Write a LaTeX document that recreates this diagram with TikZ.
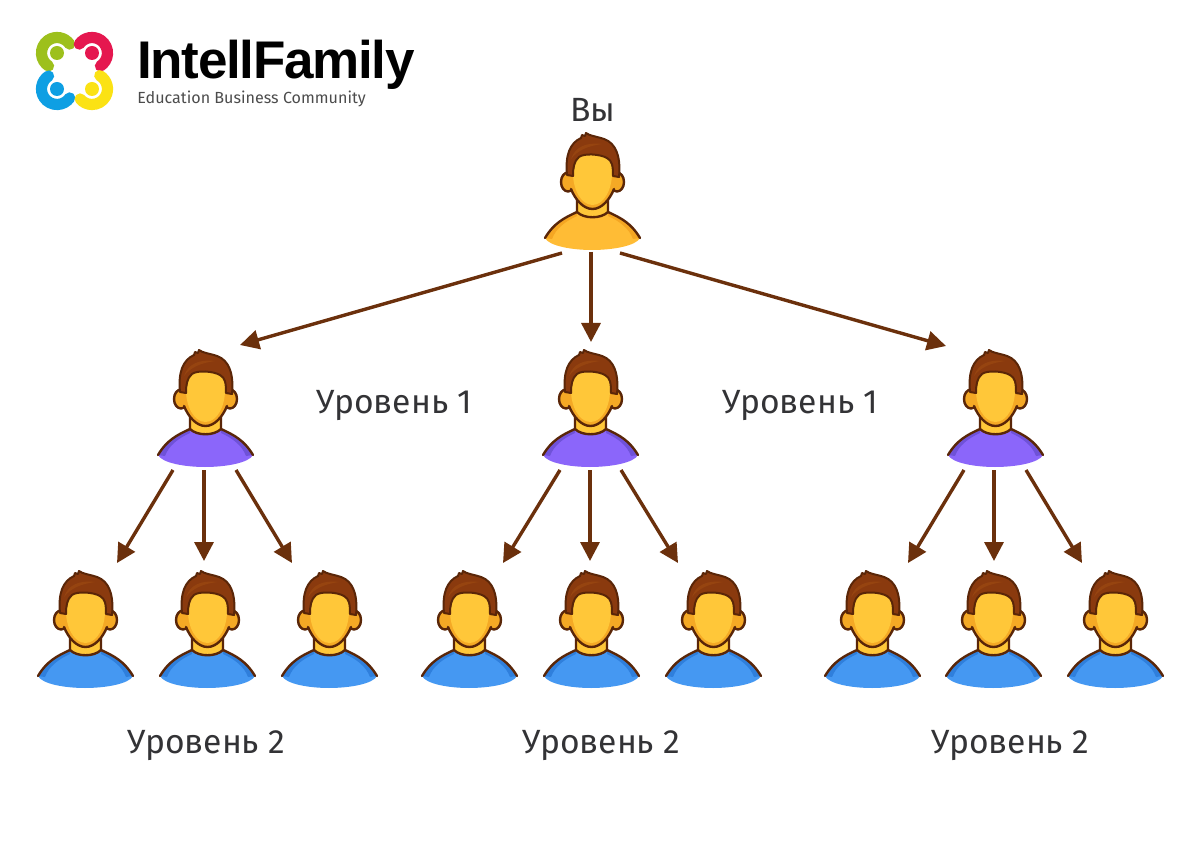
\documentclass[tikz,border=0pt]{standalone}
\usepackage{fontspec}
\setmainfont{Fira Sans}
\newfontfamily\logofont[LetterSpace=-2.5]{Liberation Sans}
\usetikzlibrary{calc,arrows.meta}
\definecolor{outl}{HTML}{5A2608}
\definecolor{hairc}{HTML}{8A3A0E}
\definecolor{hairl}{HTML}{964410}
\definecolor{skin}{HTML}{FFC739}
\definecolor{skind}{HTML}{F5A925}
\definecolor{arrc}{HTML}{6B300C}
\definecolor{lab}{HTML}{333336}
\definecolor{topb}{HTML}{FFBC35}
\definecolor{topd}{HTML}{F5A623}
\definecolor{midb}{HTML}{8B66FA}
\definecolor{midd}{HTML}{6F52D8}
\definecolor{lowb}{HTML}{4598F2}
\definecolor{lowd}{HTML}{2F7FDC}
\definecolor{lg}{HTML}{9DC01C}
\definecolor{lr}{HTML}{E5174F}
\definecolor{lb}{HTML}{0E9FE3}
\definecolor{ly}{HTML}{FBE214}
\tikzset{
  box/.style={minimum width=48pt,minimum height=59pt,inner sep=0pt,outer sep=0pt},
  arr/.style={draw=arrc,line width=1.7pt,-{Triangle[length=9.5pt,width=9.5pt,fill=arrc]}},
  levellab/.style={font=\fontsize{16.8}{20}\selectfont,text=lab,inner sep=0pt},
  arcl/.style={line width=5.6pt,line cap=round},
  ol/.style={draw=outl,line width=1.2pt,line cap=round,line join=round},
  pics/person/.style n args={2}{code={
    % body
    \fill[#1] (-47,105) .. controls (-38,90) and (-28,85) .. (-15,79) -- (16,79)
       .. controls (29,85) and (39,90) .. (48,105)
       .. controls (44,113) and (20,117) .. (0,117) .. controls (-20,117) and (-43,113) .. (-47,105) -- cycle;
    \fill[#2] (-47,105) .. controls (-38,90) and (-28,85) .. (-15,79) -- (-15,83) .. controls (-26,88) and (-36,95) .. (-40,106) -- cycle;
    \fill[#2] (48,105) .. controls (39,90) and (29,85) .. (16,79) -- (16,83) .. controls (27,88) and (37,95) .. (41,106) -- cycle;
    \draw[ol] (-47,105) .. controls (-38,90) and (-28,85) .. (-15,79);
    \draw[ol] (48,105) .. controls (39,90) and (29,85) .. (16,79);
    % neck
    \fill[skin,ol] (-15,60) -- (-15,79) .. controls (-8,86) and (9,86) .. (16,79) -- (16,60) -- cycle;
    \fill[skind] (-14,68) .. controls (-6,78) and (7,78) .. (15,68) -- (15,60) -- (-14,60) -- cycle;
    % ears
    \fill[skind,ol] (-24,49) ellipse (7 and 9.5);
    \fill[skind,ol] (25,49) ellipse (7 and 9.5);
    % head
    \fill[skind] (-23,40) -- (-23,46) .. controls (-23,60) and (-12,76) .. (0.5,76)
       .. controls (13,76) and (24,60) .. (24,46) -- (24,20) -- (-23,20) -- cycle;
    \draw[ol] (-21,56) .. controls (-17,66) and (-9,76) .. (0.5,76) .. controls (10,76) and (18,66) .. (22,56);
    \fill[skin] (-19,36) .. controls (-19,24) and (-10,22) .. (0.5,22)
       .. controls (11,22) and (20,24) .. (20,36) .. controls (21,56) and (12,72) .. (0.5,72)
       .. controls (-11,72) and (-20,56) .. (-19,36) -- cycle;
    % hair
    \fill[hairc,ol,line width=1pt] (-25,42) .. controls (-27,22) and (-22,10) .. (-11,5)
       -- (-10,2) -- (-7,3) -- (-6,0) .. controls (-2,3) and (3,3) .. (12,6)
       .. controls (24,10) and (29,24) .. (27,44)
       -- (21,43) .. controls (21,32) and (20,28) .. (15,25)
       .. controls (8,21) and (-8,20) .. (-13,24) .. controls (-18,28) and (-19,35) .. (-19,43) -- cycle;
    \fill[hairl] (-21,26) .. controls (-17,14) and (-6,9) .. (10,11) .. controls (-4,13) and (-14,17) .. (-21,26) -- cycle;
  }}
}
\begin{document}
\begin{tikzpicture}[x=.5pt,y=-.5pt]
\useasboundingbox (0,0) rectangle (1200,861);
\fill[white] (0,0) rectangle (1200,861);
% logo
\draw[lg,arcl] ($(57,53)+(-35:15.5)$) arc[start angle=-35,end angle=-237,radius=15.5];
\fill[lg] (57,53) circle (7);
\draw[lr,arcl] ($(92,53)+(-145:15.5)$) arc[start angle=-145,end angle=57,radius=15.5];
\fill[lr] (92,53) circle (7);
\draw[lb,arcl] ($(57,89)+(-123:15.5)$) arc[start angle=-123,end angle=-325,radius=15.5];
\fill[lb] (57,89) circle (7);
\draw[ly,arcl] ($(92,89)+(-60:15.5)$) arc[start angle=-60,end angle=140,radius=15.5];
\fill[ly] (92,89) circle (7);
\node[anchor=base west,inner sep=0pt,font=\logofont\bfseries\fontsize{26.5}{30}\selectfont] (brand) at (137,79) {IntellFamily};
\node[anchor=base west,inner sep=0pt,text=black!70,font=\fontsize{8.05}{10}\selectfont] (tagline) at (137,103.5) {Education Business Community};
% people
\node[box] (p0) at (592,192) {};
\node[box] (p1) at (205,409) {};
\node[box] (p2) at (590,409) {};
\node[box] (p3) at (995,409) {};
\node[box] (q1) at (85,630) {};
\node[box] (q2) at (207,630) {};
\node[box] (q3) at (329,630) {};
\node[box] (q4) at (469,630) {};
\node[box] (q5) at (591,630) {};
\node[box] (q6) at (713,630) {};
\node[box] (q7) at (872,630) {};
\node[box] (q8) at (993,630) {};
\node[box] (q9) at (1115,630) {};
\pic at (p0.north) {person={topb}{topd}};
\foreach \n in {p1,p2,p3} {\pic at (\n.north) {person={midb}{midd}};}
\foreach \n in {q1,q2,q3,q4,q5,q6,q7,q8,q9} {\pic at (\n.north) {person={lowb}{lowd}};}
% arrows
\draw[arr] ($(p0.south)+(-30,2)$) -- ($(p1.north)+(35,-5)$);
\draw[arr] ($(p0.south)+(-1,1)$) -- ($(p2.north)+(1,-8)$);
\draw[arr] ($(p0.south)+(28,2)$) -- ($(p3.north)+(-49,-4)$);
\draw[arr] ($(p1.south)+(-32,2)$) -- ($(q1.north)+(32,-8)$);
\draw[arr] ($(p1.south)+(-1,2)$) -- ($(q2.north)+(-3,-10)$);
\draw[arr] ($(p1.south)+(31,2)$) -- ($(q3.north)+(-37,-8)$);
\draw[arr] ($(p2.south)+(-30,2)$) -- ($(q4.north)+(34,-8)$);
\draw[arr] ($(p2.south)+(0,2)$) -- ($(q5.north)+(-1,-10)$);
\draw[arr] ($(p2.south)+(31,2)$) -- ($(q6.north)+(-35,-8)$);
\draw[arr] ($(p3.south)+(-31,2)$) -- ($(q7.north)+(36,-8)$);
\draw[arr] ($(p3.south)+(-1,2)$) -- ($(q8.north)+(1,-10)$);
\draw[arr] ($(p3.south)+(31,2)$) -- ($(q9.north)+(-33,-8)$);
% labels
\node[levellab] (you) at (593,110) {Вы};
\node[levellab] (l1a) at (394,405.5) {Уровень 1};
\node[levellab] (l1b) at (800,405.5) {Уровень 1};
\node[levellab] (l2a) at (206,745.5) {Уровень 2};
\node[levellab] (l2b) at (601,745.5) {Уровень 2};
\node[levellab] (l2c) at (1010,745.5) {Уровень 2};
\end{tikzpicture}
\end{document}
